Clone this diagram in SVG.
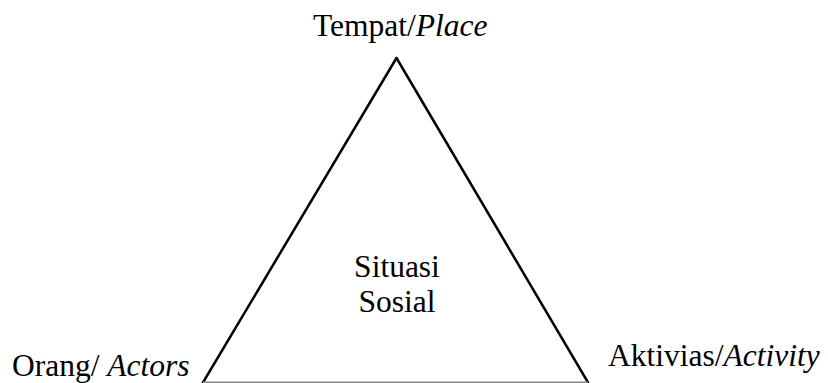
<svg xmlns="http://www.w3.org/2000/svg" width="828" height="383" viewBox="0 0 828 383">
<style>
text{font-family:'Liberation Serif',Tinos,'DejaVu Serif',serif;font-size:31.5px;fill:#000}
.i{font-style:italic}
.edge{stroke:#000;stroke-width:2.5;fill:none;stroke-linecap:round}
</style>
<rect width="828" height="383" fill="#fff"/>
<g id="connectors">
<line class="edge" x1="396.5" y1="58" x2="203" y2="382.5"/>
<line class="edge" x1="396.5" y1="58" x2="588" y2="382.5"/>
<line x1="203" y1="382.5" x2="588" y2="382.5" stroke="#888" stroke-width="2"/>
</g>
<g id="place"><text x="313" y="36" font-family="Liberation Serif">Tempat/<tspan class="i">Place</tspan></text></g>
<g id="center"><text x="397" y="277" text-anchor="middle">Situasi</text><text x="397" y="312" text-anchor="middle">Sosial</text></g>
<g id="actors"><text x="12" y="376">Orang/ <tspan class="i">Actors</tspan></text></g>
<g id="activity"><text x="608" y="366">Aktivias/<tspan class="i">Activity</tspan></text></g>
</svg>
